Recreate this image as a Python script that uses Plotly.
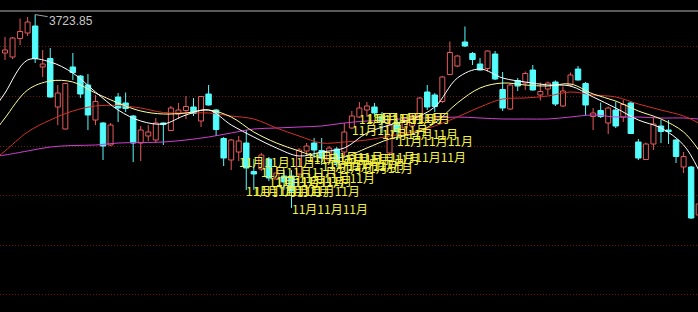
import plotly.graph_objects as go

# ---- candle data (index = trading day) ----
opens = [3647,3639,3676,3687,3701,3619,3636,3539,3495,3619,
         3601,3583,3513,3507,3463,3559,3547,3521,3467,3481,
         3473,3507,3492,3525,3532,3539,3511,3565,3533,3476,
         3433,3449,3467,3410,3415,3435,3395,3401,3401,3405,
         3451,3467,3452,3433,3455,3449,3497,3519,3533,3539,
         3521,3447,3507,3497,3501,3519,3569,3563,3550,3604,
         3621,3669,3646,3625,3616,3645,3574,3535,3592,3587,
         3613,3563,3575,3589,3541,3583,3615,3586,3520,3532,
         3507,3533,3519,3547,3469,3434,3465,3501,3493,3473,
         3419,3419,3323]
highs = [3679,3679,3716,3719,3723.85,3653,3657,3583,3587,3647,
         3603,3605,3563,3509,3507,3567,3568,3523,3501,3503,
         3517,3508,3541,3547,3561,3557,3561,3583,3535,3479,
         3475,3481,3493,3435,3447,3439,3419,3413,3413,3457,
         3467,3477,3477,3461,3459,3507,3531,3549,3549,3547,
         3529,3513,3517,3517,3527,3559,3583,3567,3601,3670,
         3643,3700,3649,3637,3652,3651,3609,3585,3597,3610,
         3623,3588,3590,3592,3580,3608,3621,3589,3537,3548,
         3540,3550,3553,3550,3475,3468,3517,3513,3513,3475,
         3449,3421,3353]
lows = [3633,3635,3663,3681,3627,3599,3558,3503,3494,3593,
        3557,3493,3503,3433,3461,3509,3529,3429,3431,3471,
        3467,3463,3491,3515,3515,3521,3499,3542,3481,3421,
        3413,3431,3373,3373,3411,3391,3393,3373,3337,3399,
        3441,3437,3423,3427,3419,3437,3495,3517,3519,3519,
        3487,3441,3473,3491,3493,3517,3533,3529,3547,3603,
        3619,3659,3623,3612,3610,3593,3531,3533,3571,3573,
        3572,3552,3563,3541,3539,3579,3592,3523,3493,3517,
        3485,3497,3509,3485,3433,3433,3453,3467,3465,3427,
        3407,3315,3317]
closes = [3653,3677,3690,3709,3636,3625,3559,3567,3586,3608,
          3565,3523,3550,3461,3503,3537,3536,3467,3493,3489,
          3507,3504,3537,3533,3540,3526,3560,3543,3494,3437,
          3473,3471,3417,3405,3443,3397,3407,3389,3371,3453,
          3461,3453,3437,3457,3427,3489,3521,3537,3541,3527,
          3509,3503,3491,3509,3517,3557,3539,3540,3599,3648,
          3641,3661,3634,3613,3651,3595,3537,3583,3581,3606,
          3573,3570,3587,3545,3571,3603,3593,3543,3527,3520,
          3537,3501,3544,3486,3437,3465,3505,3490,3490,3440,
          3440,3317,3345]

# ---- moving averages read at sampled days ----
ma_idx = [-1,0,3,6,9,12,15,18,21,24,27,30,33,36,39,42,45,48,51,54,57,
          60,63,66,69,72,75,78,81,84,87,90,92]
ma5 = [3545,3567,3633,3629,3607,3569,3533,3511,3505,3523,3533,3503,3479,3457,
       3441,3449,3457,3487,3503,3515,3539,3597,3615,3597,3589,3583,3581,3559,
       3537,3513,3497,3463,3413]
ma10 = [3497,3517,3573,3591,3589,3567,3547,3531,3525,3527,3533,3519,3489,3467,
        3451,3437,3439,3457,3475,3485,3507,3547,3577,3587,3583,3581,3585,3565,
        3551,3531,3515,3489,3453]
ma20 = [3439,3451,3489,3513,3531,3541,3542,3537,3528,3527,3527,3521,3515,3497,
        3481,3467,3469,3473,3481,3489,3501,3519,3539,3555,3557,3561,3569,3563,
        3559,3545,3533,3521,3507]
ma60 = [3441,3443,3451,3459,3462,3463,3467,3468,3469,3473,3479,3487,3495,3497,
        3499,3501,3507,3511,3513,3517,3517,3519,3517,3515,3515,3515,3519,3523,
        3519,3519,3517,3517,3515]

grid_levels = [3661, 3561, 3461, 3363, 3263, 3165]
peak_label = "3723.85"
month_label = "11月11月11月"
nov_first, nov_last = 31, 52

UP = "#e65a5a"
DOWN = "#54fcfc"

n = len(opens)
days = list(range(n))

up_x, up_base, up_h = [], [], []
dn_x, dn_base, dn_h = [], [], []
wu_x, wu_y, wd_x, wd_y = [], [], [], []
for i in days:
    o, h, l, c = opens[i], highs[i], lows[i], closes[i]
    top, bot = max(o, c), min(o, c)
    hgt = max(top - bot, 1.5)
    if c >= o:
        up_x.append(i); up_base.append(bot); up_h.append(hgt)
        wu_x += [i, i, None, i, i, None]
        wu_y += [h, top, None, bot, l, None]
    else:
        dn_x.append(i); dn_base.append(bot); dn_h.append(hgt)
        wd_x += [i, i, None]
        wd_y += [h, l, None]

fig = go.Figure()
fig.add_trace(go.Bar(x=dn_x, y=dn_h, base=dn_base, width=0.72,
                     marker=dict(color=DOWN, line=dict(color=DOWN, width=1)),
                     hoverinfo="skip"))
fig.add_trace(go.Bar(x=up_x, y=up_h, base=up_base, width=0.66,
                     marker=dict(color="#000000", line=dict(color=UP, width=1)),
                     hoverinfo="skip"))
fig.add_trace(go.Scatter(x=wd_x, y=wd_y, mode="lines",
                         line=dict(color=DOWN, width=1), hoverinfo="skip"))
fig.add_trace(go.Scatter(x=wu_x, y=wu_y, mode="lines",
                         line=dict(color=UP, width=1), hoverinfo="skip"))

for vals, col in [(ma60, "#d040d0"), (ma20, "#d23228"), (ma10, "#ffff9a"), (ma5, "#ffffff")]:
    fig.add_trace(go.Scatter(x=ma_idx, y=vals, mode="lines",
                             line=dict(color=col, width=1, shape="spline", smoothing=1),
                             hoverinfo="skip"))

annotations = []
pk = highs.index(max(highs))
annotations.append(dict(x=pk, y=highs[pk], text=peak_label, showarrow=True,
                        arrowhead=0, arrowwidth=1, arrowcolor="#a0a0a0",
                        ax=36, ay=6, font=dict(family="Liberation Sans, Arial", size=12,
                                               color="#c8c8c8")))
for i in range(nov_first, nov_last + 1):
    annotations.append(dict(x=i, y=lows[i], text=month_label, showarrow=False,
                            xanchor="left", yanchor="middle", xshift=-2,
                            font=dict(family="Noto Sans CJK SC", size=12, color="#f2f046")))

fig.update_layout(
    width=698, height=312, margin=dict(l=0, r=0, t=0, b=0),
    paper_bgcolor="#000000", plot_bgcolor="#000000",
    showlegend=False, barmode="overlay",
    xaxis=dict(range=[-0.663, 91.91], visible=False, fixedrange=True),
    yaxis=dict(range=[3129, 3753], tickvals=grid_levels, showticklabels=False,
               showgrid=True, gridcolor="#6a1818", griddash="1px,2px", gridwidth=1,
               zeroline=False, showline=False, fixedrange=True),
    annotations=annotations,
    shapes=[dict(type="line", xref="paper", yref="paper", x0=0, x1=1,
                 y0=1 - 11 / 312, y1=1 - 11 / 312,
                 line=dict(color="#b4b4b4", width=1))],
)

fig.write_html("out.html", config={"displayModeBar": False})
